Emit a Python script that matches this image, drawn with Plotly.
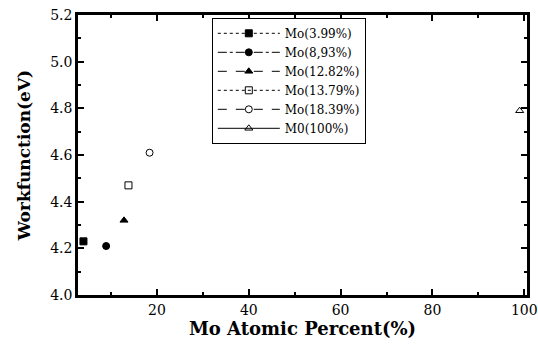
import plotly.graph_objects as go

names = ["Mo(3.99%)", "Mo(8,93%)", "Mo(12.82%)", "Mo(13.79%)", "Mo(18.39%)", "M0(100%)"]
x_vals = [3.99, 8.93, 12.82, 13.79, 18.39, 99.0]
y_vals = [4.23, 4.21, 4.32, 4.47, 4.61, 4.79]
symbols = ["square", "circle", "triangle-up", "square-open", "circle-open", "triangle-up-open"]
dashes = ["dot", "dashdot", "dash", "dot", "dash", "solid"]
y_ticks = [4.0, 4.2, 4.4, 4.6, 4.8, 5.0, 5.2]
y_ticklabels = ["4.0", "4.2", "4.4", "4.6", "4.8", "5.0", "5.2"]
x_ticks = [20, 40, 60, 80, 100]

fig = go.Figure()
for n, xv, yv, s, d in zip(names, x_vals, y_vals, symbols, dashes):
    fig.add_trace(go.Scatter(
        x=[xv], y=[yv], name=n, mode="lines+markers",
        marker=dict(symbol=s, size=7, color="black", line=dict(color="black", width=1)),
        line=dict(color="black", width=1, dash=d),
    ))

axis_common = dict(
    showgrid=False, zeroline=False, showline=True, linecolor="black", linewidth=2.5,
    ticks="inside", ticklen=6, tickwidth=2, tickcolor="black", mirror="allticks",
    tickfont=dict(family="DejaVu Serif", size=14, color="black"),
    automargin=False, ticklabeloverflow="allow",
)

fig.update_xaxes(
    range=[2.8, 100.6], tickvals=x_ticks,
    minor=dict(ticks="inside", ticklen=3, tickwidth=1.5, tickcolor="black", dtick=10, tick0=0),
    title=dict(text="<b>Mo Atomic Percent(%)</b>", font=dict(family="DejaVu Serif", size=18, color="black"), standoff=6),
    **axis_common,
)
fig.update_yaxes(
    range=[4.0, 5.2004], tickvals=y_ticks, ticktext=y_ticklabels,
    minor=dict(ticks="inside", ticklen=3, tickwidth=1.5, tickcolor="black", dtick=0.1, tick0=0),
    title=dict(text="<b>Workfunction(eV)</b>", font=dict(family="DejaVu Serif", size=17, color="black"), standoff=16),
    **axis_common,
)

fig.update_layout(
    width=538, height=347,
    margin=dict(l=78, r=11, t=15, b=52),
    plot_bgcolor="white", paper_bgcolor="white",
    legend=dict(
        x=0.298, y=0.99, xanchor="left", yanchor="top",
        bordercolor="black", borderwidth=1, bgcolor="white",
        font=dict(family="DejaVu Serif", size=12, color="black"),
        tracegroupgap=0, itemwidth=62,
    ),
)

fig.write_html(
    "out.html",
    config={"displayModeBar": False},
    post_script="document.documentElement.style.margin='0';document.body.style.margin='0';document.body.style.overflow='hidden';",
)
